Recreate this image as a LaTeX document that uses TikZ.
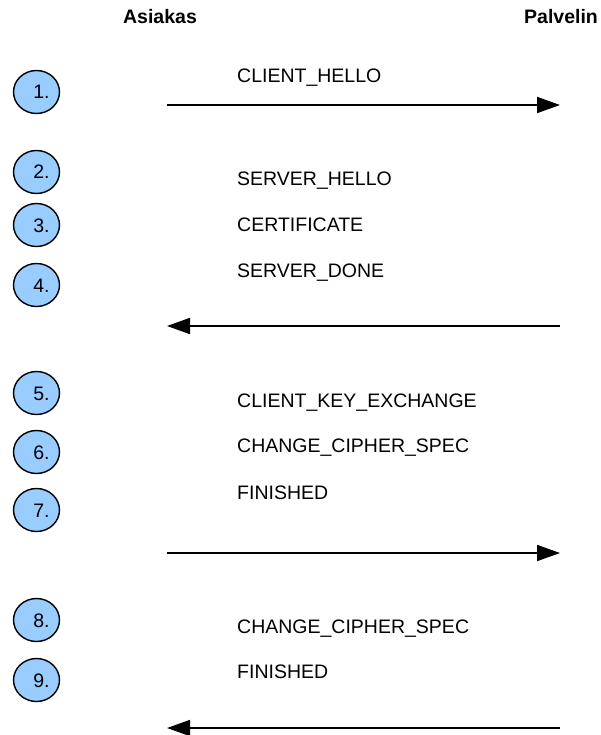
\documentclass[tikz,border=0pt]{standalone}
\usepackage{fontspec}
\setmainfont{Liberation Sans}
\usetikzlibrary{arrows.meta,shapes.geometric}
\definecolor{stepfill}{RGB}{153,204,255}
\begin{document}
\begin{tikzpicture}[x=1pt,y=-1pt,
  every node/.style={font=\fontsize{19.5}{23}\selectfont, inner sep=0pt},
  party/.style={font=\fontsize{19.5}{23}\selectfont\bfseries, text height=14pt, text depth=0pt},
  stepnum/.style={ellipse, draw=black, line width=1.4pt, fill=stepfill,
    minimum width=46pt, minimum height=43pt, text height=14pt, text depth=0pt,
    execute at begin node=\hspace*{10pt}},
  msg/.style={anchor=west, text height=14pt, text depth=0pt},
  flow/.style={line width=1.8pt, -{Triangle[length=23pt,width=16pt]}}]
\useasboundingbox (0,0) rectangle (600,735);

% parties
\node[party] (client) at (160,17) {Asiakas};
\node[party] (server) at (561,17) {Palvelin};

% numbered steps
\node[stepnum] (n1) at (36.5,92)  {1.};
\node[stepnum] (n2) at (36.5,172) {2.};
\node[stepnum] (n3) at (36.5,225) {3.};
\node[stepnum] (n4) at (36.5,285) {4.};
\node[stepnum] (n5) at (36.5,393) {5.};
\node[stepnum] (n6) at (36.5,452) {6.};
\node[stepnum] (n7) at (36.5,510) {7.};
\node[stepnum] (n8) at (36.5,620) {8.};
\node[stepnum] (n9) at (36.5,680) {9.};

% handshake messages
\node[msg] (m1) at (237,76)  {CLIENT\_HELLO};
\node[msg] (m2) at (237,179) {SERVER\_HELLO};
\node[msg] (m3) at (237,224) {CERTIFICATE};
\node[msg] (m4) at (237,270) {SERVER\_DONE};
\node[msg] (m5) at (237,400) {CLIENT\_KEY\_EXCHANGE};
\node[msg] (m6) at (237,445) {CHANGE\_CIPHER\_SPEC};
\node[msg] (m7) at (237,492) {FINISHED};
\node[msg] (m8) at (237,626) {CHANGE\_CIPHER\_SPEC};
\node[msg] (m9) at (237,671) {FINISHED};

% ends of the transfer arrows
\coordinate (a1) at (167,105); \coordinate (b1) at (560,105);
\coordinate (a2) at (167,326); \coordinate (b2) at (560,326);
\coordinate (a3) at (167,553); \coordinate (b3) at (560,553);
\coordinate (a4) at (167,728); \coordinate (b4) at (560,728);

\draw[flow] (a1) -- (b1);
\draw[flow] (b2) -- (a2);
\draw[flow] (a3) -- (b3);
\draw[flow] (b4) -- (a4);
\end{tikzpicture}
\end{document}
